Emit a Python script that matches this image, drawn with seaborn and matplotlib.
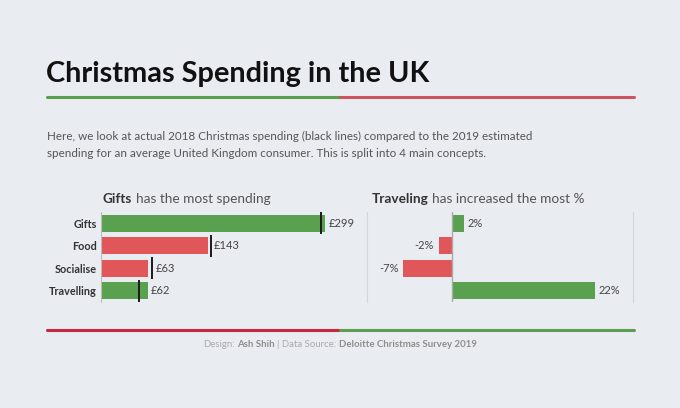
import matplotlib
matplotlib.use("Agg")
import matplotlib.pyplot as plt
import seaborn as sns
import pandas as pd
import numpy as np

# ---- data ----
categories = ["Gifts", "Food", "Socialise", "Travelling"]
estimate_2019 = [299, 143, 63, 62]
actual_2018 = [293, 146, 68, 51]
pct_change = [1.8, -2.0, -7.4, 21.6]
value_labels = ["£299", "£143", "£63", "£62"]
pct_labels = ["2%", "-2%", "-7%", "22%"]

GREEN = "#59A14F"
RED = "#E15759"
BG = "#E9ECF1"
FONT = "Lato"

sns.set_theme(style="white")
plt.rcParams["font.family"] = [FONT, "DejaVu Sans"]

W, H = 680, 408
fig = plt.figure(figsize=(W / 100, H / 100), dpi=100)
fig.patch.set_facecolor(BG)

def fx(px):
    return px / W

def fy(py):
    return 1 - py / H

colors = [GREEN if p >= 0 else RED for p in pct_change]
df = pd.DataFrame({"cat": categories, "est": estimate_2019,
                   "act": actual_2018, "pct": pct_change})

# ---- left chart ----
axL = fig.add_axes([fx(101), fy(302), fx(264), 90 / H])
axL.set_facecolor(BG)
sns.barplot(data=df, x="est", y="cat", hue="cat", palette=colors,
            orient="h", width=0.74, legend=False, ax=axL, saturation=1,
            linewidth=0, edgecolor="none")
axL.vlines(df["act"], np.arange(len(df)) - 0.48, np.arange(len(df)) + 0.48,
           color="#1a1a1a", lw=1.4, zorder=5)
for i, (v, lab) in enumerate(zip(estimate_2019, value_labels)):
    xx = max(v, actual_2018[i])
    axL.annotate(lab, (xx, i), xytext=(2.5, 0), textcoords="offset points",
                 va="center", ha="left", fontsize=8, color="#444444")
axL.set_xlim(0, 352)
axL.set_ylim(3.5, -0.5)
axL.set_xlabel("")
axL.set_ylabel("")
axL.set_xticks([])
for s in ["top", "right", "bottom"]:
    axL.spines[s].set_visible(False)
axL.spines["left"].set_color("#BBBBBB")
axL.spines["left"].set_linewidth(0.8)
axL.tick_params(axis="y", length=0, pad=3)
for t in axL.get_yticklabels():
    t.set_fontweight("bold")
    t.set_fontsize(7.8)
    t.set_color("#333333")

# ---- right chart ----
axR = fig.add_axes([fx(367), fy(302), fx(266), 90 / H])
axR.set_facecolor(BG)
sns.barplot(data=df, x="pct", y="cat", hue="cat", palette=colors,
            orient="h", width=0.74, legend=False, ax=axR, saturation=1,
            linewidth=0, edgecolor="none")
axR.axvline(0, color="#AAAAAA", lw=1.0, zorder=4)
for i, (p, lab) in enumerate(zip(pct_change, pct_labels)):
    if p >= 0:
        axR.annotate(lab, (p, i), xytext=(2.5, 0), textcoords="offset points",
                     va="center", ha="left", fontsize=8, color="#444444")
    else:
        axR.annotate(lab, (p, i), xytext=(-3.5, 0), textcoords="offset points",
                     va="center", ha="right", fontsize=8, color="#444444")
axR.set_xlim(-12.9, 27.4)
axR.set_ylim(3.5, -0.5)
axR.set_xlabel("")
axR.set_ylabel("")
axR.set_xticks([])
axR.set_yticks([])
for s in ["top", "bottom"]:
    axR.spines[s].set_visible(False)
for s in ["left", "right"]:
    axR.spines[s].set_color("#D3D6DB")
    axR.spines[s].set_linewidth(0.8)

# ---- text helpers ----
renderer = fig.canvas.get_renderer()

def text_width(s, size, weight):
    t = fig.text(0, 0, s, fontsize=size, fontweight=weight)
    w = t.get_window_extent(renderer=renderer).width
    t.remove()
    return w

def advance(s, size, weight):
    # width of s followed by one space, independent of bbox padding
    return text_width(s + " |", size, weight) - text_width("|", size, weight)

def segments(parts, x_px, y_px, size, center=False):
    texts = []
    x = x_px
    last_w = 0
    for s, weight, color in parts:
        t = fig.text(fx(x), fy(y_px), s, fontsize=size, fontweight=weight,
                     color=color, ha="left", va="baseline")
        last_w = t.get_window_extent(renderer=renderer).width
        x += advance(s, size, weight)
        texts.append(t)
    if center:
        total = texts[-1].get_position()[0] * W + last_w - x_px
        for t in texts:
            px = t.get_position()[0] * W
            t.set_x(fx(px - total / 2))
    return texts

# title
fig.text(fx(46), fy(82), "Christmas Spending in the UK", fontsize=20.8,
         fontweight="bold", color="#111111", ha="left", va="baseline")

# header line
fig.add_artist(plt.Line2D([fx(47), fx(340)], [fy(96.5), fy(96.5)],
                          color="#5A9E50", lw=2.2))
fig.add_artist(plt.Line2D([fx(340), fx(634)], [fy(96.5), fy(96.5)],
                          color="#CC5560", lw=2.2))

# subtitle
fig.text(fx(47), fy(140), "Here, we look at actual 2018 Christmas spending (black lines) compared to the 2019 estimated",
         fontsize=8.4, color="#555555", ha="left", va="baseline")
fig.text(fx(47), fy(157.5), "spending for an average United Kingdom consumer. This is split into 4 main concepts.",
         fontsize=8.4, color="#555555", ha="left", va="baseline")

# panel titles
segments([("Gifts", "bold", "#333333"), ("has the most spending", "normal", "#555555")],
         103, 203, 9.8)
segments([("Traveling", "bold", "#333333"), ("has increased the most %", "normal", "#555555")],
         372, 203, 9.8)

# footer line
fig.add_artist(plt.Line2D([fx(47), fx(340)], [fy(330), fy(330)],
                          color="#C8283F", lw=2.2))
fig.add_artist(plt.Line2D([fx(340), fx(634)], [fy(330), fy(330)],
                          color="#5A9E50", lw=2.2))

# footer text
segments([("Design:", "normal", "#AAAAAA"), ("Ash Shih", "bold", "#8E8E8E"),
          ("| Data Source:", "normal", "#AAAAAA"),
          ("Deloitte Christmas Survey 2019", "bold", "#8E8E8E")],
         340, 347, 6.9, center=True)

fig.savefig("out.png", dpi=100, facecolor=BG)
